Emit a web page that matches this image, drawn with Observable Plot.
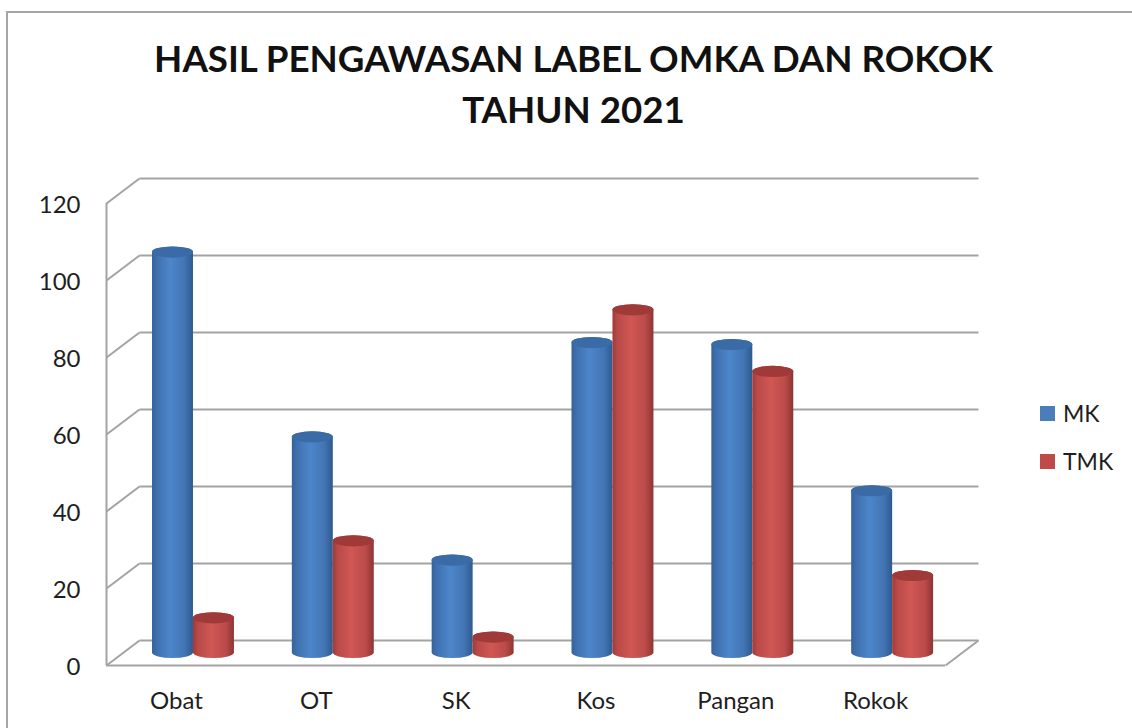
<!DOCTYPE html>
<html>
<head>
<meta charset="utf-8">
<script src="https://cdn.jsdelivr.net/npm/d3@7"></script>
<script src="https://cdn.jsdelivr.net/npm/@observablehq/plot@0.6"></script>
<style>
  html, body { margin: 0; padding: 0; background: #fff; overflow: hidden; }
  #page { position: relative; width: 1132px; height: 728px; font-family: Lato, "Open Sans", sans-serif; color: #1e1e1e; }
  #frame { position: absolute; left: 6px; top: 11px; right: 0; bottom: 0; border-left: 2px solid #a6a6a6; border-top: 2px solid #a6a6a6; pointer-events: none; }
  #title { position: absolute; left: 0; top: 33px; width: 1147px; text-align: center; font-weight: 700; font-size: 36.7px; line-height: 51px; color: #111; }
  #chart { position: absolute; left: 0; top: 140px; }
  #chart svg { display: block; background: transparent; }
  .lg { position: absolute; display: flex; align-items: center; font-size: 23px; line-height: 24px; }
  .lg i { display: inline-block; width: 15px; height: 15px; margin-right: 8px; }
</style>
</head>
<body>
<div id="page">
  <div id="frame"></div>
  <div id="title">HASIL PENGAWASAN LABEL OMKA DAN ROKOK<br>TAHUN 2021</div>
  <div id="chart"></div>
  <div class="lg" style="left:1040px;top:401px"><i style="background:#4a7ebb"></i>MK</div>
  <div class="lg" style="left:1040px;top:449px"><i style="background:#be4b48"></i>TMK</div>
</div>
<script>
const categories = ["Obat", "OT", "SK", "Kos", "Pangan", "Rokok"];
const mk = [104, 56, 24, 80.5, 80, 42];
const tmk = [9, 29, 4, 89, 73, 20];
const yTicks = [0, 20, 40, 60, 80, 100, 120];

const depthX = 0.236, depthY = 6.5;        // floor depth, in data units
const midX = depthX / 2 + 0.004, midY = depthY / 2;
const barW = 0.293, capR = 1.45;           // cylinder width and cap half-height, data units

const rows = (values, side) => values.map((v, i) => ({
  v,
  x: i + 0.5 + midX + side * barW / 2
}));
const mkRows = rows(mk, -1);
const tmkRows = rows(tmk, 1);

const defs = () => {
  const d = d3.create("svg:defs");
  const grad = (id, stops) => {
    const g = d.append("linearGradient").attr("id", id).attr("x1", 0).attr("x2", 1).attr("y1", 0).attr("y2", 0);
    stops.forEach(([o, c]) => g.append("stop").attr("offset", o).attr("stop-color", c));
  };
  grad("cylBlue", [[0, "#34629c"], [0.12, "#3f70ae"], [0.45, "#4d86cb"], [0.8, "#4274b3"], [1, "#2d5a8f"]]);
  grad("cylRed", [[0, "#9f3a38"], [0.12, "#b84a48"], [0.45, "#d05754"], [0.8, "#bb4b49"], [1, "#8d3533"]]);
  return d.node();
};

const cylinder = (data, body, cap) => [
  Plot.rect(data, {
    x1: d => d.x - barW / 2, x2: d => d.x + barW / 2,
    y1: midY - capR, y2: d => midY + d.v + capR,
    rx: 20.5, ry: 5.5, fill: body
  }),
  Plot.rect(data, {
    x1: d => d.x - barW / 2, x2: d => d.x + barW / 2,
    y1: d => midY + d.v - capR, y2: d => midY + d.v + capR,
    rx: 20.5, ry: 5.5, fill: cap
  })
];

const gridColor = "#a3a3a3";
const plot = Plot.plot({
  width: 1132,
  height: 588,
  marginTop: 63,
  marginBottom: 63,
  marginLeft: 106,
  marginRight: 187,
  x: { domain: [0, 6], label: null },
  y: { domain: [0, 120], label: null },
  style: { background: "transparent", fontFamily: "Lato, 'Open Sans', sans-serif", color: "#1e1e1e", overflow: "visible" },
  marks: [
    defs,
    // back wall lines
    Plot.link(yTicks, { x1: depthX, x2: 6 + depthX, y1: d => d + depthY, y2: d => d + depthY, stroke: gridColor, strokeWidth: 2 }),
    // left wall diagonals
    Plot.link(yTicks, { x1: 0, x2: depthX, y1: d => d, y2: d => d + depthY, stroke: gridColor, strokeWidth: 2 }),
    // floor right edge
    Plot.link([0], { x1: 6, x2: 6 + depthX, y1: 0, y2: depthY, stroke: gridColor, strokeWidth: 2 }),
    // front axis lines
    Plot.ruleX([0], { y1: 0, y2: 120, stroke: gridColor, strokeWidth: 2 }),
    Plot.ruleY([0], { x1: 0, x2: 6, stroke: gridColor, strokeWidth: 2 }),
    ...cylinder(mkRows, "url(#cylBlue)", "#3a6ba6"),
    ...cylinder(tmkRows, "url(#cylRed)", "#a03a38"),
    Plot.axisY({ ticks: yTicks, tickSize: 0, tickPadding: 26, fontSize: 24, dy: 1.5, label: null, anchor: "left" }),
    Plot.axisX({
      ticks: categories.map((c, i) => i + 0.5),
      tickFormat: d => categories[Math.floor(d)],
      tickSize: 0, tickPadding: 26, fontSize: 24, label: null, anchor: "bottom"
    })
  ]
});
document.getElementById("chart").appendChild(plot);
</script>
</body>
</html>
